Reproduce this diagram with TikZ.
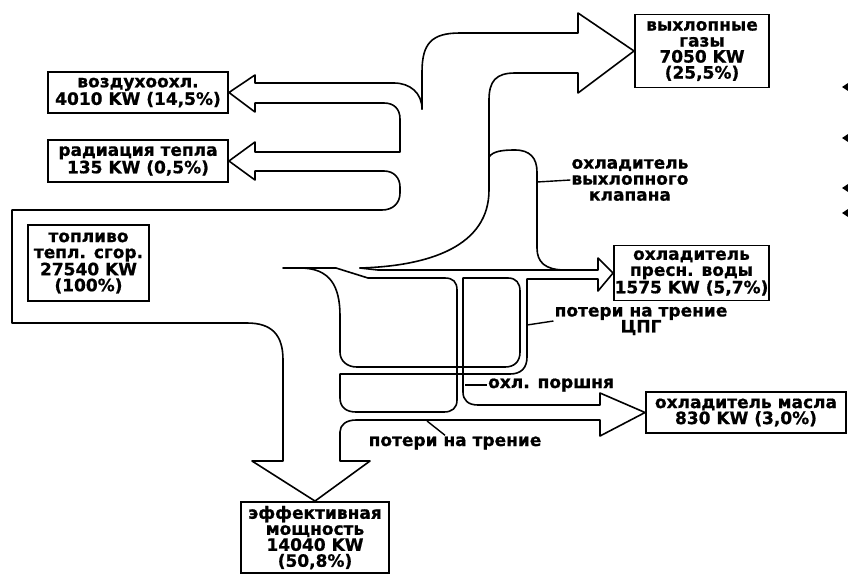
\documentclass[tikz,border=0pt]{standalone}
\usepackage{fontspec}
\setmainfont{DejaVu Sans}[BoldFeatures={FakeBold=0.8}]
\usetikzlibrary{positioning}
\newcommand{\lblsize}{\bfseries\fontsize{17}{16}\selectfont}
\tikzset{
  flowline/.style={line width=1.6pt, line join=round, line cap=round},
  valbox/.style={draw, line width=1.9pt, align=center, inner sep=0pt, font=\lblsize},
  flowlbl/.style={align=center, inner sep=1pt, font=\lblsize},
  leader/.style={line width=1.4pt},
}
\begin{document}
\begin{tikzpicture}[x=1pt,y=1pt,yscale=-1]
\useasboundingbox (0,0) rectangle (848,574);

% Boxes
\node[valbox, minimum width=180pt, minimum height=41pt] (air) at (138,92.5) {воздухоохл.\\4010 KW (14,5\%)};
\node[valbox, minimum width=180pt, minimum height=42pt] (rad) at (138,161) {радиация тепла\\135 KW (0,5\%)};
\node[valbox, minimum width=121pt, minimum height=76pt] (fuel) at (88.5,263) {топливо\\тепл. сгор.\\27540 KW\\(100\%)};
\node[valbox, minimum width=134pt, minimum height=73pt] (exh) at (702,51) {выхлопные\\газы\\7050 KW\\(25,5\%)};
\node[valbox, minimum width=155pt, minimum height=55pt] (water) at (691.5,273) {охладитель\\пресн. воды\\1575 KW (5,7\%)};
\node[valbox, minimum width=200pt, minimum height=41pt] (oil) at (746,412.5) {охладитель масла\\830 KW (3,0\%)};
\node[valbox, minimum width=148pt, minimum height=71pt] (eff) at (315,537.5) {эффективная\\мощность\\14040 KW\\(50,8\%)};

%Outer contour: air, radiation, fuel, effective power, oil
\draw[flowline] (422,109) .. controls (422,93) and (410,83) .. (394,83) -- (255,83) -- (255,75) -- (air.east) -- (255,112) -- (255,103) -- (384,103) .. controls (394,103) and (400,109) .. (400,119) -- (400,152) -- (255,152) -- (255,142) -- (rad.east) -- (255,180) -- (255,171) -- (384,171) .. controls (394,171) and (400,178) .. (400,187) -- (400,193) .. controls (400,203) and (393,210) .. (382,210) -- (12,210) -- (12,323) -- (247,323) .. controls (272,323) and (283,335) .. (283,360) -- (283,461) -- (252,461) -- (eff.north) -- (370,461) -- (340,461) -- (340,432) .. controls (340,425) and (346,420) .. (356,420) -- (600,420) -- (600,436) -- (oil.west) -- (600,393) -- (600,405) -- (478,405) .. controls (468,405) and (463,400) .. (463,392) -- (463,278) -- (508,278) .. controls (516,278) and (520,283) .. (520,291) -- (520,352) .. controls (520,362) and (514,367) .. (505,367) -- (357,367) .. controls (347,367) and (340,361) .. (340,352) -- (340,316) .. controls (340,286) and (330,268) .. (300,268);

%Inner contour: water, piston, friction
\draw[flowline] (283,268) -- (336,268) -- (368,278) -- (445,278) .. controls (453,278) and (457,282) .. (457,290) -- (457,400) .. controls (457,408) and (452,412) .. (444,412) -- (356,412) .. controls (346,412) and (340,407) .. (340,398) -- (340,374) -- (510,374) .. controls (521,374) and (527,368) .. (527,357) -- (527,279) -- (598,279) -- (598,291) -- (water.west) -- (598,258) -- (598,270) -- (378,270) -- (360,268);

%Exhaust
\draw[flowline] (422,109) -- (422,72) .. controls (422,43) and (432,33) .. (460,33) -- (578,33) -- (578,13) -- (exh.west) -- (578,93) -- (578,73) -- (515,73) .. controls (496,73) and (489,81) .. (489,100) -- (489,190) .. controls (489,246) and (430,266) .. (360,268);

%Valve cooling
\draw[flowline] (489,157) .. controls (493,151) and (503,150) .. (515,150) .. controls (530,150) and (537,158) .. (537,172) -- (537,248) .. controls (537,262) and (545,270) .. (565,270);

% Text Node
\coordinate (vlv) at (537,182);
\node[flowlbl] (vlvl) at (630,180) {охладитель\\выхлопного\\клапана};
\draw[leader] (vlv) -- (vlvl.west);
% Text Node
\coordinate (cpg) at (527,325);
\node[flowlbl] (cpgl) at (641,321) {потери на трение\\ЦПГ};
\draw[leader] (cpg) -- (cpgl.west);
% Text Node
\coordinate (pst) at (465,385);
\node[flowlbl, right=22pt of pst] (pstl) {охл. поршня};
\draw[leader] (pst) -- (pstl.west);
% Text Node
\coordinate (frc) at (427,421);
\node[flowlbl] (frcl) at (455,443) {потери на трение};
\draw[leader] (frc) -- ([xshift=-10pt]frcl.north);

%edge marks
\foreach \y in {87,138,188,213}
  \fill (842,\y) -- (848,\y-4) -- (848,\y+4) -- cycle;
\end{tikzpicture}
\end{document}
